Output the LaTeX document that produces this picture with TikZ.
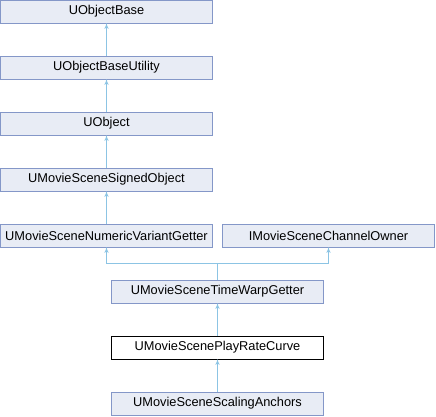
\documentclass[tikz,border=0pt]{standalone}
\usepackage{fontspec}
\setmainfont{Liberation Sans}
\usepackage{tikz}
\usetikzlibrary{shapes, arrows, positioning, calc}

\definecolor{boxfill}{RGB}{232,236,245}
\definecolor{boxline}{RGB}{132,151,200}
\definecolor{inherit}{RGB}{140,196,228}

\begin{document}
\begin{tikzpicture}[auto, node distance=33pt, >=latex', x=1pt, y=1pt]
        \tikzstyle{cls} = [draw=boxline, fill=boxfill, rectangle, minimum height=23pt, minimum width=212pt, inner sep=0pt, outer sep=0pt, font=\fontsize{12.8}{14}\selectfont]
        \tikzstyle{current} = [cls, draw=black, fill=white]
        \tikzstyle{link} = [->, draw=inherit, line width=1pt]

        \useasboundingbox (0,0) rectangle (436,-416);

        % Basisklassen
        \node [cls] (base) at (106.5,-11.5) {UObjectBase};
        \node [cls, below=of base] (baseutil) {UObjectBaseUtility};
        \node [cls, below=of baseutil] (uobject) {UObject};
        \node [cls, below=of uobject] (signed) {UMovieSceneSignedObject};
        \node [cls, below=of signed] (numeric) {UMovieSceneNumericVariantGetter};
        \node [cls, right=10pt of numeric] (channel) {IMovieSceneChannelOwner};

        % Mehrfachvererbung
        \coordinate (mid) at ($(numeric.south east)!0.5!(channel.south west)$);
        \node [cls, below=of mid] (timewarp) {UMovieSceneTimeWarpGetter};
        \node [current, below=of timewarp] (playrate) {UMovieScenePlayRateCurve};
        \node [cls, below=of playrate] (scaling) {UMovieSceneScalingAnchors};

        % Vererbungspfeile
        \draw [link] (baseutil) -- (base);
        \draw [link] (uobject) -- (baseutil);
        \draw [link] (signed) -- (uobject);
        \draw [link] (numeric) -- (signed);
        \draw [link] (timewarp.north) -- ++(0,16.5) -| (numeric.south);
        \draw [link] (timewarp.north) -- ++(0,16.5) -| (channel.south);
        \draw [link] (playrate) -- (timewarp);
        \draw [link] (scaling) -- (playrate);

    \end{tikzpicture}
\end{document}
